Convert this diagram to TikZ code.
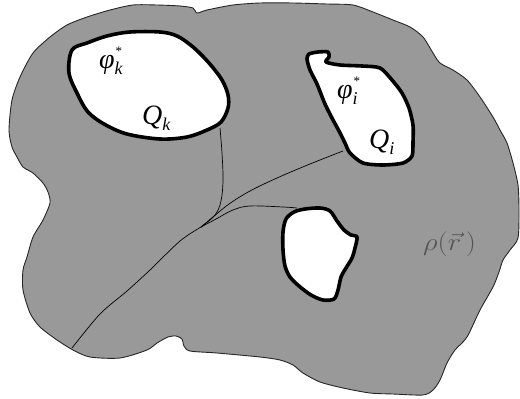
\documentclass[tikz,border=0pt]{standalone}
\usepackage{fontspec}
\newfontfamily\lbserif{Liberation Serif}
\usetikzlibrary{calc}
\definecolor{regiongray}{RGB}{153,153,153}
\definecolor{textgray}{RGB}{85,85,85}
\tikzset{
  region/.style={fill=regiongray, draw=black!85, line width=0.9pt, line join=round},
  hole/.style={fill=white, draw=black, line width=3.6pt, line join=round},
  thinline/.style={draw=black, line width=0.7pt},
  lbl/.style={inner sep=0pt, anchor=base west, font=\lbserif\itshape\fontsize{28}{30}\selectfont},
}
\newcommand{\sublbl}[1]{\raisebox{-6pt}{\fontsize{18}{18}\selectfont #1}}
\newcommand{\starsub}[1]{\makebox[0pt][l]{\sublbl{#1}}\hspace{1pt}\raisebox{13pt}{\upshape\fontsize{13}{13}\selectfont *}}
\begin{document}
\begin{tikzpicture}[x=1pt,y=-1pt]
\useasboundingbox (0,0) rectangle (520,399);
% outer region
\draw[region] plot[smooth cycle, tension=0.45] coordinates {
(9,130) (12,100) (20,77) (33,53) (50,37) (67,25) (87,17) (110,10) (133,5) (157,5)
(180,6) (193,8) (197,13) (207,10) (233,5) (260,3) (293,3) (327,4) (353,5) (373,12)
(393,20) (410,27) (423,37) (433,53) (440,63) (453,70) (467,80) (480,97) (493,117)
(500,130) (507,143) (513,163) (518,185) (519,210) (518,238) (510,250) (503,260)
(499,272) (493,287) (480,310) (467,337) (455,350) (447,363) (440,380) (433,390)
(423,395) (393,394) (370,393) (343,388) (320,382) (303,373) (293,365) (280,360)
(260,357) (217,353) (190,351) (184,346) (182,339) (176,336) (168,337) (157,343)
(147,350) (120,358) (90,357) (73,350) (57,340) (40,327) (30,313) (23,290) (23,270)
(27,257) (33,237) (43,220) (50,203) (48,192) (43,183) (33,173) (23,167) (17,157) (12,147)
};
% connector end points
\coordinate (join) at (201,227);
\coordinate (qkfoot) at (220,128);
\coordinate (qifoot) at (343,151);
\coordinate (h3foot) at (297,208);
\coordinate (rim) at (72,348);
% thin curves
\draw[thinline] plot[smooth, tension=0.6] coordinates {(qkfoot) (222,153) (223,180) (221,201) (215,215) (join)};
\draw[thinline] plot[smooth, tension=0.6] coordinates {(qifoot) (310,164) (277,178) (250,191) (229,204) (213,217) (join)};
\draw[thinline] plot[smooth, tension=0.6] coordinates {(h3foot) (283,207) (250,206) (233,210) (216,219) (join)};
\draw[thinline] plot[smooth, tension=0.5] coordinates {(join) (180,241) (150,270) (127,291) (100,314) (rim)};
% hole Q_k
\draw[hole] plot[smooth cycle, tension=0.55] coordinates {
(72,50) (69,73) (78,95) (88,112) (104,124) (127,134) (160,139) (187,137) (207,130)
(221,122) (228,108) (228,95) (222,80) (209,63) (193,47) (177,36) (160,32) (130,32)
(107,36) (87,43)
};
% hole Q_i
\draw[hole] plot[smooth cycle, tension=0.45] coordinates {
(307,59) (309,54) (318,52) (328,52) (329,57) (326,62) (340,65) (362,66) (380,68)
(392,80) (402,93) (409,108) (413,125) (413,142) (412,156) (403,163) (383,165)
(363,163) (350,153) (345,143) (339,131) (332,118) (325,104) (317,84) (310,70)
};
% lower hole
\draw[hole] plot[smooth cycle, tension=0.5] coordinates {
(283,232) (286,219) (294,212) (305,209) (320,208) (330,211) (337,221) (344,230)
(351,235) (357,237) (355,248) (352,258) (346,268) (341,277) (338,290) (334,299)
(323,300) (311,295) (299,286) (290,277) (285,266) (283,250)
};
% labels
\node[lbl] (phik) at (99,68) {φ\starsub{k}};
\node[lbl] (qk) at (142,124) {Q\sublbl{k}};
\node[lbl] (phii) at (337,98) {φ\starsub{i}};
\node[lbl] (qi) at (369,148) {Q\sublbl{i}};
\node[inner sep=0pt, anchor=base west, text=textgray, xscale=1.15, font=\fontsize{24}{26}\selectfont] (rho) at (423,250) {$\rho(\vec r\,)$};
\end{tikzpicture}
\end{document}
